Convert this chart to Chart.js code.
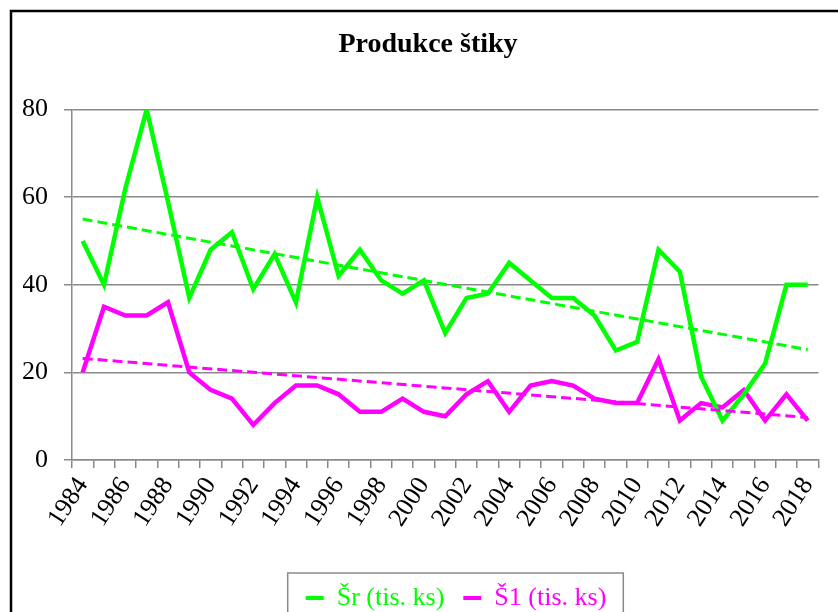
<!DOCTYPE html>
<html><head><meta charset="utf-8">
<script src="https://cdn.jsdelivr.net/npm/chart.js@4.4.0/dist/chart.umd.min.js"></script>
<style>
html,body{margin:0;padding:0;overflow:hidden;background:#fff;width:838px;height:612px}
#wrap{position:absolute;left:0;top:0;width:838px;height:621px}
</style></head>
<body><div id="wrap"><canvas id="c" width="838" height="621"></canvas></div>
<script>
const years = ['1984','1985','1986','1987','1988','1989','1990','1991','1992','1993','1994','1995','1996','1997','1998','1999','2000','2001','2002','2003','2004','2005','2006','2007','2008','2009','2010','2011','2012','2013','2014','2015','2016','2017','2018'];
const seriesSr = [50,40,62,80,59,37,48,52,39,47,36,60,42,48,41,38,41,29,37,38,45,41,37,37,33,25,27,48,43,19,9,15,22,40,40];
const seriesS1 = [20,35,33,33,36,20,16,14,8,13,17,17,15,11,11,14,11,10,15,18,11,17,18,17,14,13,13,23,9,13,12,16,9,15,9];
const trendSr = [55.0, 25.2];   // trend line ends (1984, 2018)
const trendS1 = [23.2, 9.7];
const yTicks = [0,20,40,60,80];
const labelSr = 'Šr (tis. ks)';
const labelS1 = 'Š1 (tis. ks)';
const title = 'Produkce štiky';

const GREEN = '#00FF00', MAGENTA = '#FF00FF', GRID = '#8a8a8a';
const FONT = 'Liberation Serif';

function trendData(t){ return years.map((_,i)=> i===0 ? t[0] : (i===years.length-1 ? t[1] : null)); }

const framePlugin = {
  id:'frame',
  beforeDraw(chart){
    const c = chart.ctx;
    c.save(); c.fillStyle='#fff'; c.fillRect(0,0,chart.width,chart.height);
    c.strokeStyle='#000'; c.lineWidth=2.5;
    c.beginPath(); c.moveTo(11,chart.height+5); c.lineTo(11,11); c.lineTo(chart.width+5,11); c.stroke();
    c.restore();
  },
  afterLayout(chart){
    const lg = chart.legend;
    if(lg){ lg.left += 28; lg.right += 28; }
  },
  afterDraw(chart){
    const lg = chart.legend; if(!lg || !lg.legendHitBoxes.length) return;
    const hb = lg.legendHitBoxes;
    const l = Math.min(...hb.map(h=>h.left)), r = Math.max(...hb.map(h=>h.left+h.width));
    const t = Math.min(...hb.map(h=>h.top));
    const c = chart.ctx; c.save(); c.strokeStyle=GRID; c.lineWidth=1.5;
    c.strokeRect(l-18, t-12, (r-l)+35, 60); c.restore();
  }
};

new Chart(document.getElementById('c'), {
  type:'line',
  data:{
    labels: years,
    datasets:[
      {label:labelSr, data:seriesSr, borderColor:GREEN, backgroundColor:GREEN, borderWidth:4.5, pointRadius:0, tension:0, order:2},
      {label:labelS1, data:seriesS1, borderColor:MAGENTA, backgroundColor:MAGENTA, borderWidth:4.5, pointRadius:0, tension:0, order:2},
      {label:'trendSr', data:trendData(trendSr), borderColor:GREEN, borderWidth:3, borderDash:[10,5], pointRadius:0, spanGaps:true, order:1},
      {label:'trendS1', data:trendData(trendS1), borderColor:MAGENTA, borderWidth:3, borderDash:[10,5], pointRadius:0, spanGaps:true, order:1}
    ]
  },
  options:{
    responsive:false, animation:false, devicePixelRatio:1,
    layout:{padding:{left:23,right:5,top:0,bottom:0}},
    plugins:{
      title:{display:true, text:title, color:'#000', font:{family:FONT,size:28,weight:'bold'}, padding:{top:28,bottom:48}},
      legend:{position:'bottom', labels:{boxWidth:18, boxHeight:4, padding:19, font:{family:FONT,size:26},
        filter:(item)=> item.datasetIndex < 2,
        generateLabels:(chart)=> Chart.defaults.plugins.legend.labels.generateLabels(chart).map(it=>{
          const ds = chart.data.datasets[it.datasetIndex];
          it.fillStyle = ds.borderColor; it.strokeStyle = ds.borderColor; it.lineWidth = 0; it.fontColor = ds.borderColor; it.lineDash=[];
          return it; })
      }},
      tooltip:{enabled:false}
    },
    scales:{
      x:{offset:true,
        grid:{offset:true, drawOnChartArea:false, color:GRID, lineWidth:1.5, tickLength:8},
        border:{color:GRID, width:1.5},
        ticks:{autoSkip:false, maxRotation:57, minRotation:57, color:'#000', padding:4, font:{family:FONT,size:26},
          callback:(v,i)=> i%2===0 ? years[i] : ''},
        afterFit:(s)=>{ s.height = 106; }
      },
      y:{min:0, max:80,
        afterBuildTicks:(s)=>{ s.ticks = yTicks.map(v=>({value:v})); },
        ticks:{color:'#000', padding:16, font:{family:FONT,size:26}},
        grid:{color:GRID, lineWidth:1.5, tickLength:8},
        border:{color:GRID, width:1.5},
        afterFit:(s)=>{ s.width = 49; }
      }
    }
  },
  plugins:[framePlugin]
});
</script>
</body></html>
